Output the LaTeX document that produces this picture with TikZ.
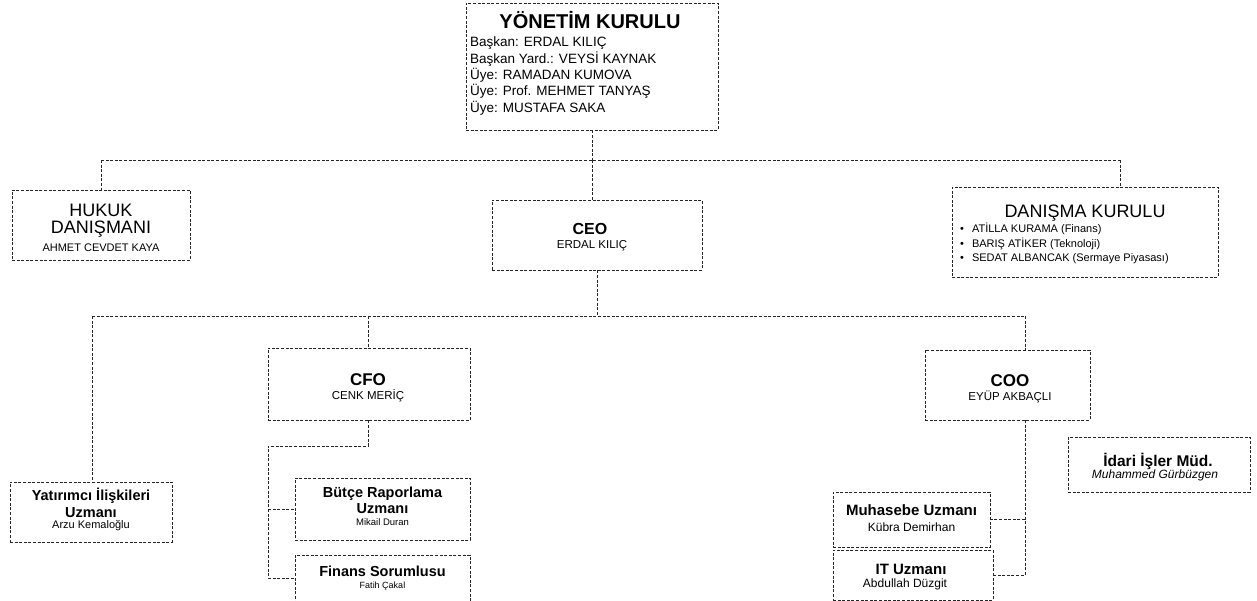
\documentclass[tikz,border=0pt]{standalone}
\usepackage{fontspec}
\setmainfont{Liberation Sans}
\begin{document}
\begin{tikzpicture}[x=1pt,y=-1pt,
  ln/.style={draw=black!85,line width=0.7pt,dash pattern=on 3pt off 1.6pt},
  box/.style={ln,rectangle,inner sep=0pt,align=center},
  nm/.style={font=\fontsize{11.5}{12}\selectfont}]
\useasboundingbox (0,0) rectangle (1257,601);
% boxes
\node[box,minimum width=252pt,minimum height=127pt] (yk) at (592,66.5) {};
\node[font=\bfseries\fontsize{20}{21}\selectfont] (ykt) at (590,20) {YÖNETİM KURULU};
\node[anchor=north west,inner sep=0pt,align=left,font=\fontsize{13.5}{16.3}\selectfont] (ykl) at (470,37)
 {Başkan: ERDAL KILIÇ\\Başkan Yard.: VEYSİ KAYNAK\\Üye: RAMADAN KUMOVA\\Üye: Prof. MEHMET TANYAŞ\\Üye: MUSTAFA SAKA};
\node[box,minimum width=178pt,minimum height=70pt] (hk) at (101,225) {};
\node[align=center,font=\fontsize{18}{17}\selectfont] (hkt) at (101,221) {HUKUK\\DANIŞMANI};
\node[font=\fontsize{11}{12}\selectfont] (hkn) at (101,248) {AHMET CEVDET KAYA};
\node[box,minimum width=210pt,minimum height=70pt] (ceo) at (597,235) {};
\node[font=\bfseries\fontsize{16}{17}\selectfont] (ceot) at (590,229) {CEO};
\node[nm] (ceon) at (592,246) {ERDAL KILIÇ};
\node[box,minimum width=266pt,minimum height=90pt] (dk) at (1085,232) {};
\node[font=\fontsize{18}{19}\selectfont] (dkt) at (1085,213) {DANIŞMA KURULU};
\node[anchor=north west,inner sep=0pt,align=left,font=\fontsize{11}{14.5}\selectfont] (dkl) at (960,223)
 {\textbullet\hspace{8pt}ATİLLA KURAMA (Finans)\\\textbullet\hspace{8pt}BARIŞ ATİKER (Teknoloji)\\\textbullet\hspace{8pt}SEDAT ALBANCAK (Sermaye Piyasası)};
\node[box,minimum width=202pt,minimum height=72pt] (cfo) at (369,384) {};
\node[font=\bfseries\fontsize{17}{18}\selectfont] (cfot) at (368,380) {CFO};
\node[nm] (cfon) at (368,396) {CENK MERİÇ};
\node[box,minimum width=165pt,minimum height=70pt] (coo) at (1007.5,385) {};
\node[font=\bfseries\fontsize{17}{18}\selectfont] (coot) at (1010,381) {COO};
\node[nm] (coon) at (1010,397) {EYÜP AKBAÇLI};
\node[box,minimum width=162pt,minimum height=60pt] (yat) at (91,512) {};
\node[align=center,font=\bfseries\fontsize{14.5}{17}\selectfont] (yatt) at (91,503) {Yatırımcı İlişkileri\\Uzmanı};
\node[font=\fontsize{11}{12}\selectfont] (yatn) at (91,526) {Arzu Kemaloğlu};
\node[box,minimum width=175pt,minimum height=62pt] (bt) at (382.5,509) {};
\node[align=center,font=\bfseries\fontsize{14.5}{16}\selectfont] (btt) at (382.5,500) {Bütçe Raporlama\\Uzmanı};
\node[font=\fontsize{9.5}{10}\selectfont] (btn) at (382.5,522) {Mikail Duran};
\node[box,minimum width=175pt,minimum height=46pt] (fn) at (382.5,578) {};
\node[font=\bfseries\fontsize{14.5}{15}\selectfont] (fnt) at (382.5,571) {Finans Sorumlusu};
\node[font=\fontsize{9}{10}\selectfont] (fnn) at (382.5,586) {Fatih Çakal};
\node[box,minimum width=157pt,minimum height=55pt] (mh) at (911.5,519.5) {};
\node[font=\bfseries\fontsize{15}{16}\selectfont] (mht) at (911.5,510) {Muhasebe Uzmanı};
\node[font=\fontsize{12}{13}\selectfont] (mhn) at (911.5,527) {Kübra Demirhan};
\node[box,minimum width=160pt,minimum height=50pt] (it) at (913,575) {};
\node[font=\bfseries\fontsize{15}{16}\selectfont] (itt) at (911,569) {IT Uzmanı};
\node[font=\fontsize{12}{13}\selectfont] (itn) at (905,584) {Abdullah Düzgit};
\node[box,minimum width=182pt,minimum height=55pt] (id) at (1159,464.5) {};
\node[font=\bfseries\fontsize{15.5}{16}\selectfont] (idt) at (1158,461) {İdari İşler Müd.};
\node[font=\itshape\fontsize{12}{13}\selectfont] (idn) at (1155,475) {Muhammed Gürbüzgen};
% junctions
\coordinate (j1) at (592,160);
\coordinate (jl) at (101,160);
\coordinate (jr) at (1120,160);
\coordinate (j2) at (597,316);
\coordinate (j2l) at (92,316);
\coordinate (j2c) at (368,316);
\coordinate (j2r) at (1025,316);
\coordinate (c1) at (368,446);
\coordinate (c2) at (268,446);
\coordinate (c3) at (268,509);
\coordinate (c4) at (268,578);
\coordinate (o1) at (1025,420);
\coordinate (o2) at (1025,519.5);
\coordinate (o3) at (1025,575);
% connectors
\draw[ln] (yk.south) -- (j1);
\draw[ln] (jl) -- (jr);
\draw[ln] (jl) -- (hk.north);
\draw[ln] (jr) -- (jr |- dk.north);
\draw[ln] (j1) -- (j1 |- ceo.north);
\draw[ln] (ceo.south) -- (j2);
\draw[ln] (j2l) -- (j2r);
\draw[ln] (j2l) -- (j2l |- yat.north);
\draw[ln] (j2c) -- (j2c |- cfo.north);
\draw[ln] (j2r) -- (j2r |- coo.north);
\draw[ln] (cfo.south -| c1) -- (c1) -- (c2) -- (c4) -- (fn.west);
\draw[ln] (c3) -- (bt.west);
\draw[ln] (o1) -- (o3) -- (it.east);
\draw[ln] (o2) -- (mh.east);
\end{tikzpicture}
\end{document}
